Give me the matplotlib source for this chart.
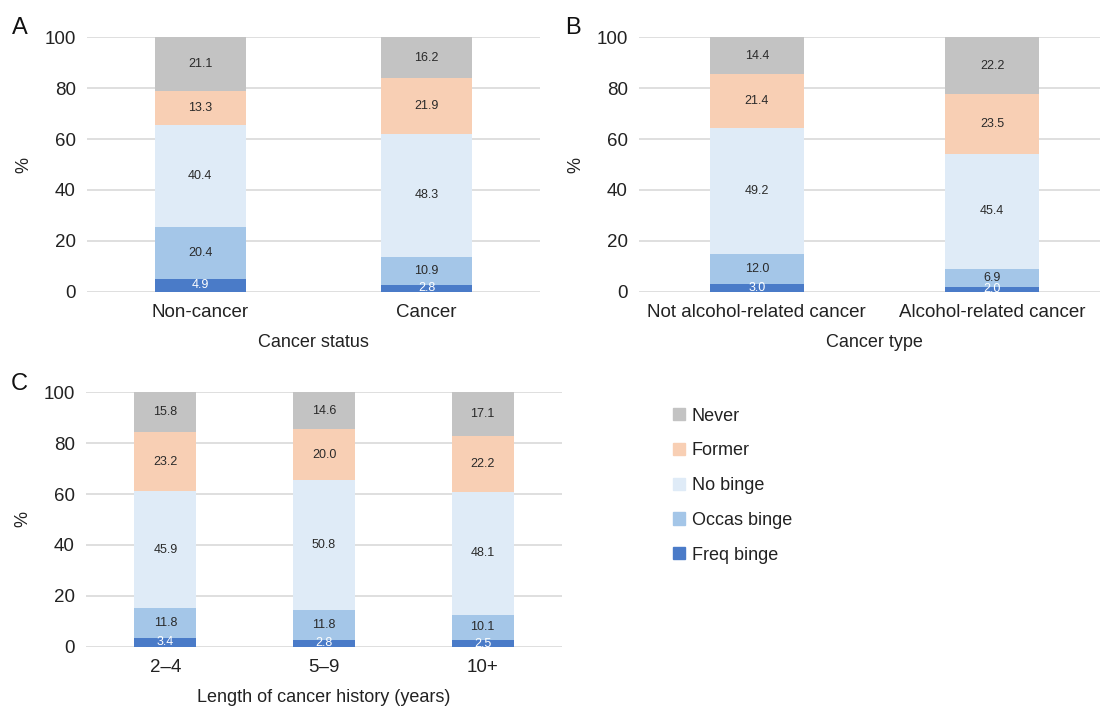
import matplotlib
matplotlib.use("Agg")
import matplotlib.pyplot as plt
from matplotlib.patches import Patch
import numpy as np

plt.rcParams['font.family'] = ['Liberation Sans', 'DejaVu Sans']

# drinking categories, stacked bottom to top
series = ["Freq binge", "Occas binge", "No binge", "Former", "Never"]
colors = ["#4a7bc8", "#a4c6e8", "#dfebf7", "#f8cfb4", "#c3c3c3"]
text_colors = ["white", "#2a2a2a", "#2a2a2a", "#2a2a2a", "#2a2a2a"]

# panel A: cancer status
cats_a = ["Non-cancer", "Cancer"]
vals_a = [[4.9, 2.8], [20.4, 10.9], [40.4, 48.3], [13.3, 21.9], [21.1, 16.2]]

# panel B: cancer type
cats_b = ["Not alcohol-related cancer", "Alcohol-related cancer"]
vals_b = [[3.0, 2.0], [12.0, 6.9], [49.2, 45.4], [21.4, 23.5], [14.4, 22.2]]

# panel C: length of cancer history
cats_c = ["2\u20134", "5\u20139", "10+"]
vals_c = [[3.4, 2.8, 2.5], [11.8, 11.8, 10.1], [45.9, 50.8, 48.1],
          [23.2, 20.0, 22.2], [15.8, 14.6, 17.1]]


def stacked(ax, cats, vals, xlabel, width=0.4):
    x = np.arange(len(cats))
    bottom = np.zeros(len(cats))
    for name, v, c, tc in zip(series, vals, colors, text_colors):
        v = np.array(v)
        ax.bar(x, v, width, bottom=bottom, color=c, label=name, zorder=2)
        for xi, b, h in zip(x, bottom, v):
            ax.text(xi, b + h / 2, f"{h:.1f}", ha="center", va="center",
                    fontsize=9, color=tc, zorder=3)
        bottom += v
    ax.set_xlim(-0.5, len(cats) - 0.5)
    ax.set_ylim(0, 100)
    ax.set_yticks([0, 20, 40, 60, 80, 100])
    ax.set_xticks(x)
    ax.set_xticklabels(cats)
    ax.tick_params(length=0, labelsize=13.5, labelcolor="#222222", pad=8)
    ax.tick_params(axis="x", pad=9)
    ax.grid(axis="y", color="#d9d9d9", linewidth=1.2, zorder=0)
    ax.set_axisbelow(True)
    for s in ax.spines.values():
        s.set_visible(False)
    ax.set_xlabel(xlabel, fontsize=13, color="#222222", labelpad=9)
    ax.set_ylabel("%", fontsize=13, color="#222222", labelpad=9)


fig = plt.figure(figsize=(11, 7.08), dpi=100)
ax_a = fig.add_axes([0.0791, 0.588, 0.4118, 0.3593])
ax_b = fig.add_axes([0.581, 0.588, 0.428, 0.3593])
ax_c = fig.add_axes([0.0782, 0.0866, 0.4327, 0.3593])

stacked(ax_a, cats_a, vals_a, "Cancer status")
stacked(ax_b, cats_b, vals_b, "Cancer type")
stacked(ax_c, cats_c, vals_c, "Length of cancer history (years)", width=0.39)

fig.text(0.011, 0.96, "A", fontsize=17, color="#111111", va="center")
fig.text(0.514, 0.96, "B", fontsize=17, color="#111111", va="center")
fig.text(0.010, 0.458, "C", fontsize=17, color="#111111", va="center")

handles = [Patch(color=c) for c in colors[::-1]]
fig.legend(handles, series[::-1], loc="upper left",
           bbox_to_anchor=(0.597, 0.447), frameon=False, fontsize=13,
           handlelength=0.65, handleheight=0.65, handletextpad=0.4,
           labelspacing=0.98, labelcolor="#222222")

fig.savefig("out.png", dpi=100)
